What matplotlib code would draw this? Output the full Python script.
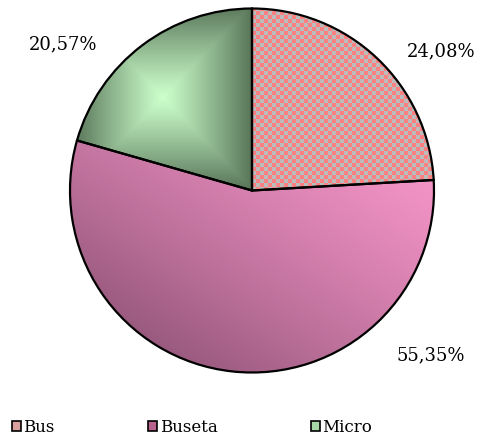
import numpy as np
import matplotlib
matplotlib.use("Agg")
import matplotlib.pyplot as plt
from matplotlib.patches import Rectangle
from matplotlib.colors import to_rgb

# --- Data ---
categories = ["Bus", "Buseta", "Micro"]
shares = [24.08, 55.35, 20.57]
pct_labels = ["24,08%", "55,35%", "20,57%"]

W, H = 492, 436
fig = plt.figure(figsize=(W / 100, H / 100), dpi=100)
ax = fig.add_axes([0, 0, 1, 1])

cx, cy, r = 252, H - 190.5, 182
wedges, _ = ax.pie(shares, startangle=90, counterclock=False, center=(cx, cy),
                   radius=r, frame=True,
                   wedgeprops=dict(facecolor="none", edgecolor="black", linewidth=1.6))
ax.set_xlim(0, W)
ax.set_ylim(0, H)
ax.set_aspect("equal")
ax.set_axis_off()

# pixel grid (row 0 = top of figure)
px, py = np.meshgrid(np.arange(W) + 0.5, np.arange(H) + 0.5)


def blend(c0, c1, t):
    c0, c1 = np.array(to_rgb(c0)), np.array(to_rgb(c1))
    t = np.clip(t, 0, 1)[..., None]
    return c0 * (1 - t) + c1 * t


# Bus: checkerboard red / gray
cell = 4
chk = ((px // cell + py // cell) % 2).astype(bool)
img_bus = np.where(chk[..., None], np.array(to_rgb("#ff8080")), np.array(to_rgb("#bcbcbc")))

# Buseta: linear gradient, light top-right to dark bottom-left
left, top = cx - r, 190.5 - r
t = 0.4 * (left + 2 * r - px) / (2 * r) + 0.6 * (py - top) / (2 * r)
img_buseta = blend("#fa98cc", "#7e4868", ((t - 0.2) / 0.8) ** 1.3)

# Micro: rectangular path gradient, light centre to dark edges
mx0, mx1, my0, my1 = 77, 252, 9, 190
mcx, mcy = 163, 98
d = np.maximum(np.abs(px - mcx) / ((mx1 - mx0) / 2), np.abs(py - mcy) / ((my1 - my0) / 2))
img_micro = blend("#ccffcc", "#5a775a", d ** 1.1)

for img, w in zip([img_bus, img_buseta, img_micro], wedges):
    im = ax.imshow(img, extent=(0, W, 0, H), origin="upper", interpolation="nearest", zorder=0.5)
    im.set_clip_path(w)
    w.set_zorder(2)

# percentage labels
label_pos = [(441, H - 51), (431, H - 355), (63, H - 44)]
for txt, (x, y) in zip(pct_labels, label_pos):
    ax.text(x, y, txt, ha="center", va="center", fontsize=13, family="DejaVu Serif")

# legend
handle_colors = ["#d9a0a0", "#b8628e", "#a8d8a8"]
handles = [Rectangle((0, 0), 1, 1, facecolor=c, edgecolor="black", linewidth=1.2) for c in handle_colors]
fig.legend(handles, categories, loc="lower left", bbox_to_anchor=(0.017, -0.008), ncol=3,
           frameon=False, handlelength=0.55, handleheight=0.55, handletextpad=0.15,
           columnspacing=5.6, borderaxespad=0.1, borderpad=0.1,
           prop=dict(family="DejaVu Serif", size=12))

fig.savefig("out.png", dpi=100)
